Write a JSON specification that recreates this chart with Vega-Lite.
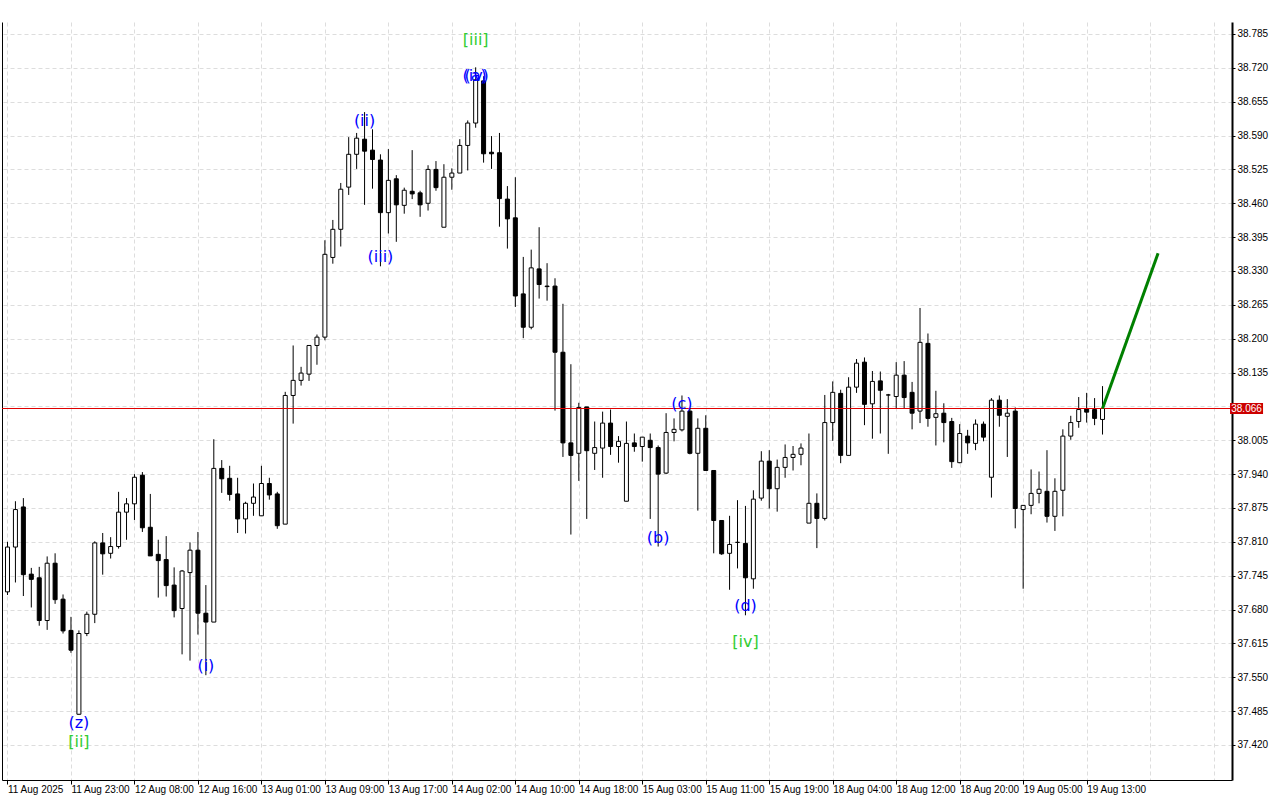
{
  "$schema": "https://vega.github.io/schema/vega-lite/v6.json",
  "width": 1230,
  "height": 758,
  "autosize": {"type": "none"},
  "padding": {"left": 2, "top": 22, "right": 48, "bottom": 20},
  "background": "white",
  "config": {"view": {"stroke": null}, "font": "Liberation Sans"},
  "datasets": {
    "candles": [
      {"i":0,"o":37.714,"h":37.810,"l":37.708,"c":37.800},
      {"i":1,"o":37.800,"h":37.888,"l":37.732,"c":37.872},
      {"i":2,"o":37.877,"h":37.894,"l":37.706,"c":37.747},
      {"i":3,"o":37.748,"h":37.760,"l":37.684,"c":37.738},
      {"i":4,"o":37.741,"h":37.762,"l":37.649,"c":37.659},
      {"i":5,"o":37.659,"h":37.782,"l":37.641,"c":37.769},
      {"i":6,"o":37.769,"h":37.788,"l":37.691,"c":37.699},
      {"i":7,"o":37.700,"h":37.709,"l":37.634,"c":37.639},
      {"i":8,"o":37.640,"h":37.666,"l":37.597,"c":37.602},
      {"i":9,"o":37.479,"h":37.640,"l":37.478,"c":37.634},
      {"i":10,"o":37.634,"h":37.676,"l":37.629,"c":37.671},
      {"i":11,"o":37.671,"h":37.811,"l":37.654,"c":37.808},
      {"i":12,"o":37.808,"h":37.827,"l":37.747,"c":37.787},
      {"i":13,"o":37.788,"h":37.819,"l":37.778,"c":37.801},
      {"i":14,"o":37.801,"h":37.906,"l":37.797,"c":37.867},
      {"i":15,"o":37.867,"h":37.894,"l":37.814,"c":37.883},
      {"i":16,"o":37.883,"h":37.940,"l":37.852,"c":37.934},
      {"i":17,"o":37.938,"h":37.944,"l":37.829,"c":37.837},
      {"i":18,"o":37.838,"h":37.902,"l":37.783,"c":37.783},
      {"i":19,"o":37.786,"h":37.814,"l":37.703,"c":37.774},
      {"i":20,"o":37.776,"h":37.821,"l":37.705,"c":37.726},
      {"i":21,"o":37.727,"h":37.761,"l":37.665,"c":37.678},
      {"i":22,"o":37.682,"h":37.756,"l":37.594,"c":37.754},
      {"i":23,"o":37.751,"h":37.809,"l":37.582,"c":37.794},
      {"i":24,"o":37.794,"h":37.829,"l":37.632,"c":37.673},
      {"i":25,"o":37.673,"h":37.727,"l":37.554,"c":37.656},
      {"i":26,"o":37.656,"h":38.007,"l":37.656,"c":37.951},
      {"i":27,"o":37.951,"h":37.967,"l":37.904,"c":37.931},
      {"i":28,"o":37.932,"h":37.956,"l":37.889,"c":37.901},
      {"i":29,"o":37.902,"h":37.933,"l":37.827,"c":37.854},
      {"i":30,"o":37.854,"h":37.887,"l":37.826,"c":37.884},
      {"i":31,"o":37.884,"h":37.922,"l":37.860,"c":37.896},
      {"i":32,"o":37.860,"h":37.956,"l":37.860,"c":37.922},
      {"i":33,"o":37.922,"h":37.933,"l":37.891,"c":37.900},
      {"i":34,"o":37.902,"h":37.906,"l":37.835,"c":37.841},
      {"i":35,"o":37.844,"h":38.098,"l":37.844,"c":38.091},
      {"i":36,"o":38.091,"h":38.187,"l":38.037,"c":38.120},
      {"i":37,"o":38.120,"h":38.146,"l":38.110,"c":38.134},
      {"i":38,"o":38.132,"h":38.187,"l":38.119,"c":38.187},
      {"i":39,"o":38.187,"h":38.208,"l":38.150,"c":38.203},
      {"i":40,"o":38.203,"h":38.389,"l":38.197,"c":38.362},
      {"i":41,"o":38.356,"h":38.428,"l":38.344,"c":38.410},
      {"i":42,"o":38.410,"h":38.499,"l":38.377,"c":38.487},
      {"i":43,"o":38.491,"h":38.587,"l":38.476,"c":38.554},
      {"i":44,"o":38.554,"h":38.595,"l":38.526,"c":38.585},
      {"i":45,"o":38.583,"h":38.635,"l":38.457,"c":38.560},
      {"i":46,"o":38.562,"h":38.602,"l":38.488,"c":38.544},
      {"i":47,"o":38.543,"h":38.554,"l":38.339,"c":38.442},
      {"i":48,"o":38.442,"h":38.564,"l":38.402,"c":38.504},
      {"i":49,"o":38.507,"h":38.514,"l":38.386,"c":38.457},
      {"i":50,"o":38.456,"h":38.490,"l":38.440,"c":38.485},
      {"i":51,"o":38.483,"h":38.562,"l":38.468,"c":38.478},
      {"i":52,"o":38.480,"h":38.484,"l":38.434,"c":38.457},
      {"i":53,"o":38.460,"h":38.533,"l":38.446,"c":38.525},
      {"i":54,"o":38.525,"h":38.541,"l":38.484,"c":38.490},
      {"i":55,"o":38.414,"h":38.535,"l":38.414,"c":38.510},
      {"i":56,"o":38.510,"h":38.527,"l":38.486,"c":38.518},
      {"i":57,"o":38.518,"h":38.583,"l":38.518,"c":38.571},
      {"i":58,"o":38.571,"h":38.619,"l":38.523,"c":38.614},
      {"i":59,"o":38.614,"h":38.721,"l":38.605,"c":38.697},
      {"i":60,"o":38.695,"h":38.704,"l":38.538,"c":38.555},
      {"i":61,"o":38.558,"h":38.589,"l":38.526,"c":38.555},
      {"i":62,"o":38.557,"h":38.595,"l":38.415,"c":38.469},
      {"i":63,"o":38.468,"h":38.493,"l":38.373,"c":38.430},
      {"i":64,"o":38.432,"h":38.510,"l":38.261,"c":38.282},
      {"i":65,"o":38.286,"h":38.357,"l":38.201,"c":38.222},
      {"i":66,"o":38.222,"h":38.371,"l":38.218,"c":38.336},
      {"i":67,"o":38.334,"h":38.414,"l":38.277,"c":38.304},
      {"i":68,"o":38.301,"h":38.345,"l":38.273,"c":38.300},
      {"i":69,"o":38.301,"h":38.316,"l":38.062,"c":38.174},
      {"i":70,"o":38.174,"h":38.267,"l":37.973,"c":38.000},
      {"i":71,"o":38.000,"h":38.151,"l":37.824,"c":37.976},
      {"i":72,"o":37.980,"h":38.077,"l":37.927,"c":38.068},
      {"i":73,"o":38.069,"h":38.069,"l":37.854,"c":37.985},
      {"i":74,"o":37.980,"h":38.041,"l":37.948,"c":37.991},
      {"i":75,"o":37.990,"h":38.060,"l":37.933,"c":38.038},
      {"i":76,"o":38.038,"h":38.064,"l":37.977,"c":37.993},
      {"i":77,"o":37.993,"h":38.013,"l":37.962,"c":38.003},
      {"i":78,"o":37.888,"h":38.041,"l":37.888,"c":37.999},
      {"i":79,"o":38.000,"h":38.018,"l":37.983,"c":37.993},
      {"i":80,"o":37.993,"h":38.011,"l":37.964,"c":38.011},
      {"i":81,"o":38.005,"h":38.018,"l":37.854,"c":37.991},
      {"i":82,"o":37.991,"h":37.995,"l":37.801,"c":37.940},
      {"i":83,"o":37.942,"h":38.057,"l":37.940,"c":38.020},
      {"i":84,"o":38.020,"h":38.047,"l":38.003,"c":38.026},
      {"i":85,"o":38.025,"h":38.091,"l":38.022,"c":38.061},
      {"i":86,"o":38.061,"h":38.065,"l":37.978,"c":37.980},
      {"i":87,"o":37.980,"h":38.047,"l":37.870,"c":38.028},
      {"i":88,"o":38.028,"h":38.053,"l":37.947,"c":37.947},
      {"i":89,"o":37.947,"h":37.947,"l":37.788,"c":37.851},
      {"i":90,"o":37.851,"h":37.851,"l":37.785,"c":37.787},
      {"i":91,"o":37.788,"h":37.860,"l":37.718,"c":37.805},
      {"i":92,"o":37.809,"h":37.890,"l":37.759,"c":37.809},
      {"i":93,"o":37.807,"h":37.879,"l":37.669,"c":37.741},
      {"i":94,"o":37.739,"h":37.909,"l":37.720,"c":37.892},
      {"i":95,"o":37.894,"h":37.984,"l":37.889,"c":37.965},
      {"i":96,"o":37.965,"h":37.986,"l":37.874,"c":37.912},
      {"i":97,"o":37.912,"h":37.968,"l":37.868,"c":37.953},
      {"i":98,"o":37.953,"h":37.997,"l":37.933,"c":37.972},
      {"i":99,"o":37.972,"h":37.994,"l":37.947,"c":37.978},
      {"i":100,"o":37.978,"h":37.999,"l":37.957,"c":37.990},
      {"i":101,"o":37.846,"h":38.018,"l":37.846,"c":37.884},
      {"i":102,"o":37.884,"h":37.903,"l":37.798,"c":37.855},
      {"i":103,"o":37.855,"h":38.092,"l":37.851,"c":38.039},
      {"i":104,"o":38.039,"h":38.118,"l":38.004,"c":38.097},
      {"i":105,"o":38.095,"h":38.102,"l":37.961,"c":37.976},
      {"i":106,"o":37.976,"h":38.126,"l":37.976,"c":38.107},
      {"i":107,"o":38.107,"h":38.161,"l":38.096,"c":38.153},
      {"i":108,"o":38.155,"h":38.164,"l":38.034,"c":38.074},
      {"i":109,"o":38.075,"h":38.138,"l":38.008,"c":38.118},
      {"i":110,"o":38.119,"h":38.137,"l":38.018,"c":38.101},
      {"i":111,"o":38.092,"h":38.094,"l":37.979,"c":38.092},
      {"i":112,"o":38.089,"h":38.155,"l":38.066,"c":38.130},
      {"i":113,"o":38.130,"h":38.157,"l":38.066,"c":38.087},
      {"i":114,"o":38.097,"h":38.117,"l":38.026,"c":38.057},
      {"i":115,"o":38.061,"h":38.259,"l":38.038,"c":38.193},
      {"i":116,"o":38.191,"h":38.210,"l":38.031,"c":38.047},
      {"i":117,"o":38.049,"h":38.100,"l":37.995,"c":38.056},
      {"i":118,"o":38.057,"h":38.076,"l":38.001,"c":38.039},
      {"i":119,"o":38.041,"h":38.048,"l":37.952,"c":37.964},
      {"i":120,"o":37.962,"h":38.036,"l":37.961,"c":38.018},
      {"i":121,"o":38.013,"h":38.025,"l":37.979,"c":38.000},
      {"i":122,"o":37.999,"h":38.045,"l":37.986,"c":38.036},
      {"i":123,"o":38.036,"h":38.041,"l":38.003,"c":38.011},
      {"i":124,"o":37.934,"h":38.086,"l":37.895,"c":38.082},
      {"i":125,"o":38.082,"h":38.091,"l":38.031,"c":38.053},
      {"i":126,"o":38.051,"h":38.084,"l":37.973,"c":38.057},
      {"i":127,"o":38.061,"h":38.068,"l":37.836,"c":37.874},
      {"i":128,"o":37.872,"h":37.880,"l":37.720,"c":37.880},
      {"i":129,"o":37.880,"h":37.949,"l":37.863,"c":37.903},
      {"i":130,"o":37.903,"h":37.945,"l":37.884,"c":37.911},
      {"i":131,"o":37.907,"h":37.986,"l":37.847,"c":37.859},
      {"i":132,"o":37.859,"h":37.932,"l":37.831,"c":37.907},
      {"i":133,"o":37.909,"h":38.026,"l":37.859,"c":38.013},
      {"i":134,"o":38.013,"h":38.052,"l":38.006,"c":38.039},
      {"i":135,"o":38.041,"h":38.088,"l":38.029,"c":38.064},
      {"i":136,"o":38.066,"h":38.096,"l":38.039,"c":38.059},
      {"i":137,"o":38.064,"h":38.086,"l":38.034,"c":38.047},
      {"i":138,"o":38.045,"h":38.109,"l":38.016,"c":38.066}
    ],
    "waves": [
      {"i":9,"p":37.462,"t":"(z)","deg":"minor"},
      {"i":9,"p":37.426,"t":"[ii]","deg":"intermediate"},
      {"i":25,"p":37.572,"t":"(i)","deg":"minor"},
      {"i":45,"p":38.618,"t":"(ii)","deg":"minor"},
      {"i":47,"p":38.357,"t":"(iii)","deg":"minor"},
      {"i":59,"p":38.704,"t":"(iv)","deg":"minor"},
      {"i":59,"p":38.704,"t":"(a)","deg":"minor"},
      {"i":59,"p":38.773,"t":"[iii]","deg":"intermediate"},
      {"i":82,"p":37.817,"t":"(b)","deg":"minor"},
      {"i":85,"p":38.075,"t":"(c)","deg":"minor"},
      {"i":93,"p":37.687,"t":"(d)","deg":"minor"},
      {"i":93,"p":37.618,"t":"[iv]","deg":"intermediate"}
    ],
    "projection": [
      {"i":138,"p":38.066},
      {"i":145,"p":38.364}
    ],
    "bid": [
      {"price":38.066,"label":"38.066"}
    ]
  },
  "layer": [
    {
      "data": {"name": "candles"},
      "mark": {"type": "rule", "color": "black", "strokeWidth": 1},
      "encoding": {
        "x": {
          "field": "i", "type": "quantitative",
          "scale": {"domain": [-0.0625, 153.6875], "nice": false, "zero": false},
          "axis": {
            "orient": "bottom", "title": null,
            "values": [0,4,8,12,16,20,24,28,32,36,40,44,48,52,56,60,64,68,72,76,80,84,88,92,96,100,104,108,112,116,120,124,128,132,136,140,144,148,152],
            "grid": true, "gridColor": "#DDDDDD", "gridDash": [4, 3], "gridWidth": 1,
            "domain": true, "domainColor": "black", "domainWidth": 1,
            "ticks": true, "tickSize": 4, "tickColor": "black",
            "tickOpacity": {"condition": {"test": "datum.value % 8 === 0 && datum.value <= 136", "value": 1}, "value": 0},
            "labelExpr": "datum.value % 8 === 0 && datum.value <= 136 ? ['11 Aug 2025','11 Aug 23:00','12 Aug 08:00','12 Aug 16:00','13 Aug 01:00','13 Aug 09:00','13 Aug 17:00','14 Aug 02:00','14 Aug 10:00','14 Aug 18:00','15 Aug 03:00','15 Aug 11:00','15 Aug 19:00','18 Aug 04:00','18 Aug 12:00','18 Aug 20:00','19 Aug 05:00','19 Aug 13:00'][datum.value / 8] : ''",
            "labelAlign": "left", "labelBaseline": "top", "labelPadding": 0, "labelDx": 1,
            "labelFont": "Liberation Sans", "labelFontSize": 10, "labelColor": "black",
            "labelOverlap": false, "labelFlush": false, "labelBound": false
          }
        },
        "y": {
          "field": "l", "type": "quantitative",
          "scale": {"domain": [37.3528, 38.808], "nice": false, "zero": false},
          "axis": {
            "orient": "right", "title": null,
            "values": [37.42,37.485,37.55,37.615,37.68,37.745,37.81,37.875,37.94,38.005,38.07,38.135,38.2,38.265,38.33,38.395,38.46,38.525,38.59,38.655,38.72,38.785],
            "labelExpr": "abs(datum.value - 38.07) < 0.001 ? '' : format(datum.value, '.3f')",
            "grid": true, "gridColor": "#DDDDDD", "gridDash": [4, 3], "gridWidth": 1,
            "domain": true, "domainColor": "black", "domainWidth": 2,
            "ticks": true, "tickSize": 3, "tickColor": "black",
            "labelPadding": 2, "labelFont": "Liberation Sans", "labelFontSize": 10, "labelColor": "black",
            "labelBaseline": "middle", "labelOverlap": false, "labelFlush": false, "labelBound": false
          }
        },
        "y2": {"field": "h"}
      }
    },
    {
      "data": {"name": "candles"},
      "mark": {"type": "bar", "width": 4, "stroke": "black", "strokeWidth": 1, "orient": "vertical"},
      "encoding": {
        "x": {"field": "i", "type": "quantitative"},
        "y": {
          "field": "o", "type": "quantitative",
          "axis": {"orient": "left", "title": null, "labels": false, "ticks": false, "grid": false, "domain": true, "domainColor": "black", "domainWidth": 1}
        },
        "y2": {"field": "c"},
        "fill": {"condition": {"test": "datum.c >= datum.o", "value": "white"}, "value": "black"}
      }
    },
    {
      "data": {"name": "bid"},
      "mark": {"type": "rule", "color": "#E00000", "strokeWidth": 1},
      "encoding": {"y": {"field": "price", "type": "quantitative", "axis": null}}
    },
    {
      "data": {"name": "projection"},
      "mark": {"type": "line", "color": "#008000", "strokeWidth": 3},
      "encoding": {
        "x": {"field": "i", "type": "quantitative"},
        "y": {"field": "p", "type": "quantitative", "axis": null}
      }
    },
    {
      "data": {"name": "waves"},
      "mark": {"type": "text", "font": "DejaVu Sans", "fontSize": 16, "align": "center", "baseline": "middle"},
      "encoding": {
        "x": {"field": "i", "type": "quantitative"},
        "y": {"field": "p", "type": "quantitative", "axis": null},
        "text": {"field": "t"},
        "color": {"field": "deg", "type": "nominal", "scale": {"domain": ["minor", "intermediate"], "range": ["#0000FF", "#32CD32"]}, "legend": null}
      }
    },
    {
      "data": {"name": "bid"},
      "mark": {"type": "point", "filled": true, "fill": "#CC0000", "strokeWidth": 0, "opacity": 1, "size": 1089, "shape": "M-1,-0.33L1,-0.33L1,0.33L-1,0.33Z"},
      "encoding": {
        "x": {"datum": 156.15, "type": "quantitative"},
        "y": {"field": "price", "type": "quantitative", "axis": null}
      }
    },
    {
      "data": {"name": "bid"},
      "mark": {"type": "text", "font": "Liberation Sans", "fontSize": 10, "color": "white", "align": "center", "baseline": "middle"},
      "encoding": {
        "x": {"datum": 156.15, "type": "quantitative"},
        "y": {"field": "price", "type": "quantitative", "axis": null},
        "text": {"field": "label"}
      }
    }
  ],
  "resolve": {"axis": {"y": "independent"}}
}
